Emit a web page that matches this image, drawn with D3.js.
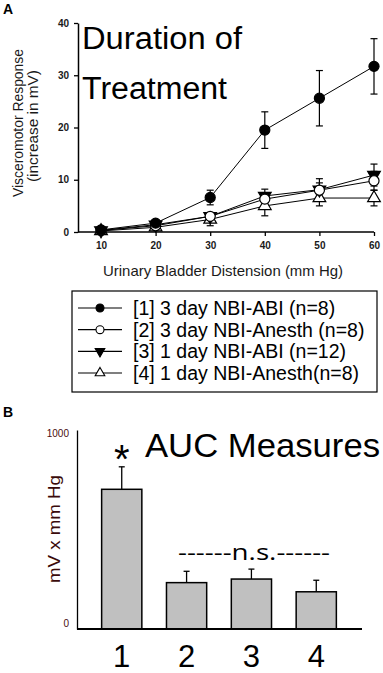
<!DOCTYPE html>
<html>
<head>
<meta charset="utf-8">
<script src="https://cdn.jsdelivr.net/npm/d3@7"></script>
<style>
  body { margin: 0; background: #fff; }
  svg { display: block; font-family: "Liberation Sans", Arial, sans-serif; }
</style>
</head>
<body>
<svg id="chart" width="383" height="673"></svg>
<script>
// panel A data
const pressures = [10, 20, 30, 40, 50, 60];
const seriesNames = [
  "[1] 3 day NBI-ABI (n=8)",
  "[2] 3 day NBI-Anesth (n=8)",
  "[3] 1 day NBI-ABI (n=12)",
  "[4] 1 day NBI-Anesth(n=8)"
];
const abi3 = [0.4, 1.7, 6.6, 19.5, 25.6, 31.7];
const abi3Err = [0.2, 0.3, 1.4, 3.5, 5.3, 5.3];
const anesth3 = [0.3, 1.2, 3.0, 6.3, 8.0, 9.8];
const anesth3Err = [0.2, 0.3, 0.6, 1.0, 1.4, 1.8];
const abi1 = [0.3, 1.4, 3.0, 6.9, 8.1, 10.9];
const abi1Err = [0.2, 0.3, 0.6, 1.3, 2.1, 2.1];
const anesth1 = [0.2, 0.9, 2.4, 5.0, 6.5, 6.5];
const anesth1Err = [0.2, 0.3, 1.2, 1.9, 1.5, 1.5];
const yTicksA = [0, 10, 20, 30, 40];

// panel B data
const groups = ["1", "2", "3", "4"];
const auc = [702, 233, 251, 187];
const aucErr = [113, 57, 50, 58];
const yTicksB = [0, 1000];

const svg = d3.select("#chart");

const series = [
  { name: seriesNames[0], vals: abi3, err: abi3Err, sym: d3.symbolCircle, fill: "#000", rot: 0 },
  { name: seriesNames[1], vals: anesth3, err: anesth3Err, sym: d3.symbolCircle, fill: "#fff", rot: 0 },
  { name: seriesNames[2], vals: abi1, err: abi1Err, sym: d3.symbolTriangle, fill: "#000", rot: 180 },
  { name: seriesNames[3], vals: anesth1, err: anesth1Err, sym: d3.symbolTriangle, fill: "#fff", rot: 0 }
];

// ---------- panel A ----------
const axisLeftX = 78;
const x = d3.scaleLinear().domain([10, 60]).range([101, 374]);
const y = d3.scaleLinear().domain([0, 40]).range([232, 23]);

svg.append("text").attr("x", 3).attr("y", 14)
  .style("font-weight", "bold").style("font-size", "14px").text("A");

// axes
const gxA = svg.append("g").attr("transform", `translate(0,${y(0)})`)
  .call(d3.axisBottom(x).tickValues(pressures).tickSize(4).tickSizeOuter(0).tickPadding(6));
gxA.select(".domain").remove();
gxA.append("line").attr("x1", axisLeftX).attr("x2", x(60))
  .attr("stroke", "#000").attr("stroke-width", 1.5);

const gyA = svg.append("g").attr("transform", `translate(${axisLeftX},0)`)
  .call(d3.axisLeft(y).tickValues(yTicksA).tickSize(4).tickSizeOuter(0).tickPadding(5));
gyA.select(".domain").attr("stroke-width", 1.5);

[gxA, gyA].forEach(g => {
  g.selectAll(".tick text").style("font-size", "10px").style("font-weight", "bold")
    .style("font-family", "'Liberation Sans', Arial, sans-serif").attr("fill", "#1a1a1a");
  g.selectAll(".tick line").attr("stroke-width", 1.3);
});

// axis titles
svg.append("text")
  .attr("transform", `translate(23,123) rotate(-90)`)
  .attr("text-anchor", "middle").style("font-size", "14px").attr("fill", "#1a1a1a")
  .attr("textLength", 148).attr("lengthAdjust", "spacingAndGlyphs")
  .text("Visceromotor Response");
svg.append("text")
  .attr("transform", `translate(38,126) rotate(-90)`)
  .attr("text-anchor", "middle").style("font-size", "14px").attr("fill", "#1a1a1a")
  .attr("textLength", 112).attr("lengthAdjust", "spacingAndGlyphs")
  .text("(increase in mV)");
svg.append("text").attr("x", 223).attr("y", 276)
  .attr("text-anchor", "middle").style("font-size", "14.5px").attr("fill", "#1a1a1a")
  .attr("textLength", 240).attr("lengthAdjust", "spacingAndGlyphs")
  .text("Urinary Bladder Distension (mm Hg)");

// big titles
svg.append("text").attr("x", 82).attr("y", 48.5)
  .style("font-size", "31px").attr("textLength", 160).attr("lengthAdjust", "spacingAndGlyphs")
  .text("Duration of");
svg.append("text").attr("x", 82).attr("y", 98.5)
  .style("font-size", "31px").attr("textLength", 145).attr("lengthAdjust", "spacingAndGlyphs")
  .text("Treatment");

const line = d3.line().x((d, i) => x(pressures[i])).y(d => y(d));

// lines
svg.append("g").selectAll("path").data(series).join("path")
  .attr("d", s => line(s.vals)).attr("fill", "none")
  .attr("stroke", "#000").attr("stroke-width", 1);

// error bars
series.forEach(s => {
  const g = svg.append("g").attr("stroke", "#000").attr("stroke-width", 1.2);
  s.vals.forEach((v, i) => {
    const px = x(pressures[i]);
    const top = y(v + s.err[i]), bot = y(v - s.err[i]);
    g.append("line").attr("x1", px).attr("x2", px).attr("y1", top).attr("y2", bot);
    g.append("line").attr("x1", px - 3.5).attr("x2", px + 3.5).attr("y1", top).attr("y2", top);
    g.append("line").attr("x1", px - 3.5).attr("x2", px + 3.5).attr("y1", bot).attr("y2", bot);
  });
});

// markers
series.slice().reverse().forEach(s => {
  const size = s.sym === d3.symbolCircle ? 80 : 70;
  svg.append("g").selectAll("path").data(s.vals).join("path")
    .attr("d", d3.symbol().type(s.sym).size(size))
    .attr("transform", (d, i) => `translate(${x(pressures[i])},${y(d)}) rotate(${s.rot})`)
    .attr("fill", s.fill).attr("stroke", "#000").attr("stroke-width", 1.2);
});

// legend
const legend = svg.append("g");
legend.append("rect").attr("x", 72).attr("y", 291).attr("width", 305).attr("height", 101)
  .attr("fill", "#fff").attr("stroke", "#000").attr("stroke-width", 1.2);
const rowY = d3.scalePoint().domain(seriesNames).range([308, 373]);
series.forEach(s => {
  const ry = rowY(s.name);
  legend.append("line").attr("x1", 78).attr("x2", 122).attr("y1", ry).attr("y2", ry)
    .attr("stroke", "#000").attr("stroke-width", 1.2);
  legend.append("path")
    .attr("d", d3.symbol().type(s.sym).size(s.sym === d3.symbolCircle ? 50 : 40))
    .attr("transform", `translate(100,${ry}) rotate(${s.rot})`)
    .attr("fill", s.fill).attr("stroke", "#000").attr("stroke-width", 1.1);
  legend.append("text").attr("x", 133).attr("y", ry).attr("dy", "0.36em")
    .style("font-size", "19.5px").text(s.name);
});

// ---------- panel B ----------
svg.append("text").attr("x", 3).attr("y", 417)
  .style("font-weight", "bold").style("font-size", "14px").text("B");

const xb = d3.scaleBand().domain(groups).range([77, 361]).paddingInner(0.38).paddingOuter(0.38);
const yb = d3.scaleLinear().domain([0, 1000]).range([629, 430]);

// bars
svg.append("g").selectAll("rect").data(auc).join("rect")
  .attr("x", (d, i) => xb(groups[i])).attr("width", xb.bandwidth())
  .attr("y", d => yb(d)).attr("height", d => yb(0) - yb(d))
  .attr("fill", "#c0c0c0").attr("stroke", "#000").attr("stroke-width", 1.5);

// error bars (upper only)
const eb = svg.append("g").attr("stroke", "#000").attr("stroke-width", 1.3);
auc.forEach((v, i) => {
  const cx = xb(groups[i]) + xb.bandwidth() / 2;
  eb.append("line").attr("x1", cx).attr("x2", cx).attr("y1", yb(v)).attr("y2", yb(v + aucErr[i]));
  eb.append("line").attr("x1", cx - 3).attr("x2", cx + 3)
    .attr("y1", yb(v + aucErr[i])).attr("y2", yb(v + aucErr[i]));
});

// axes B
const gyB = svg.append("g").attr("transform", `translate(77,0)`)
  .call(d3.axisLeft(yb).tickValues(yTicksB).tickFormat(d3.format("d"))
    .tickSize(0).tickPadding(8).tickSizeOuter(0));
gyB.select(".domain").attr("stroke-width", 1.3);
gyB.selectAll(".tick text").style("font-size", "10px").attr("fill", "#4a0e0e")
  .style("font-family", "'Liberation Sans', Arial, sans-serif")
  .attr("dy", (d) => d === 0 ? "-0.3em" : "0.6em");

const gxB = svg.append("g").attr("transform", `translate(0,${yb(0)})`)
  .call(d3.axisBottom(xb).tickSize(0).tickPadding(16).tickSizeOuter(0));
gxB.select(".domain").remove();
gxB.append("line").attr("x1", 77).attr("x2", 362).attr("stroke", "#000").attr("stroke-width", 1.8);
gxB.selectAll(".tick text").style("font-size", "31px").attr("fill", "#000")
  .style("font-family", "'Liberation Sans', Arial, sans-serif");

svg.append("text")
  .attr("transform", `translate(60,529) rotate(-90)`)
  .attr("text-anchor", "middle").style("font-size", "16.5px").attr("fill", "#3a0a0a")
  .attr("textLength", 108).attr("lengthAdjust", "spacingAndGlyphs")
  .text("mV x mm Hg");

// annotations
svg.append("text").attr("x", xb("1") + xb.bandwidth() / 2).attr("y", 473)
  .attr("text-anchor", "middle").style("font-size", "40px").text("*");
svg.append("text").attr("x", 145).attr("y", 456.5)
  .style("font-size", "33px").attr("textLength", 235).attr("lengthAdjust", "spacingAndGlyphs")
  .text("AUC Measures");
svg.append("text").attr("x", 254).attr("y", 560)
  .attr("text-anchor", "middle").style("font-size", "21px")
  .style("font-family", "'Open Sans', sans-serif")
  .attr("textLength", 152).attr("lengthAdjust", "spacingAndGlyphs")
  .text("------n.s.------");
</script>
</body>
</html>
